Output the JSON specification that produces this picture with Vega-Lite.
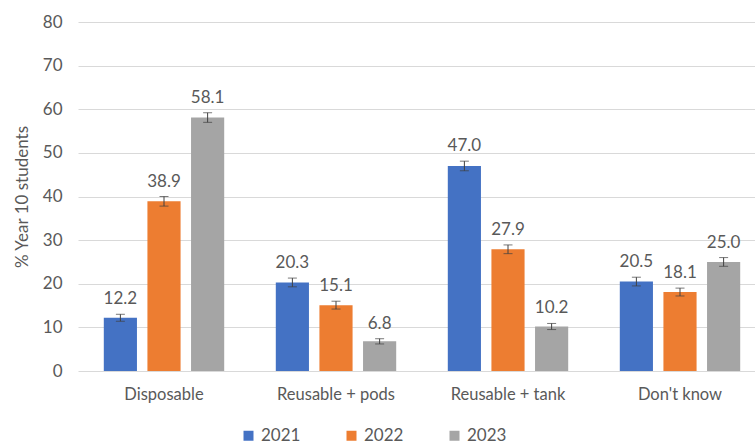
{
  "$schema": "https://vega.github.io/schema/vega-lite/v6.json",
  "width": 677,
  "height": 349,
  "autosize": {"type": "none"},
  "padding": {"left": 78, "top": 22, "right": 0, "bottom": 75},
  "background": "white",
  "config": {
    "font": "Lato",
    "view": {"stroke": null},
    "axis": {"labelColor": "#595959", "titleColor": "#595959", "labelFontSize": 17}
  },
  "data": {
    "values": [
      {"category": "Disposable", "year": "2021", "value": 12.2, "lo": 11.4, "hi": 13.0},
      {"category": "Disposable", "year": "2022", "value": 38.9, "lo": 37.8, "hi": 40.0},
      {"category": "Disposable", "year": "2023", "value": 58.1, "lo": 57.0, "hi": 59.2},
      {"category": "Reusable + pods", "year": "2021", "value": 20.3, "lo": 19.3, "hi": 21.3},
      {"category": "Reusable + pods", "year": "2022", "value": 15.1, "lo": 14.2, "hi": 16.0},
      {"category": "Reusable + pods", "year": "2023", "value": 6.8, "lo": 6.2, "hi": 7.4},
      {"category": "Reusable + tank", "year": "2021", "value": 47.0, "lo": 45.9, "hi": 48.1},
      {"category": "Reusable + tank", "year": "2022", "value": 27.9, "lo": 26.9, "hi": 28.9},
      {"category": "Reusable + tank", "year": "2023", "value": 10.2, "lo": 9.5, "hi": 10.9},
      {"category": "Don't know", "year": "2021", "value": 20.5, "lo": 19.5, "hi": 21.5},
      {"category": "Don't know", "year": "2022", "value": 18.1, "lo": 17.2, "hi": 19.0},
      {"category": "Don't know", "year": "2023", "value": 25.0, "lo": 24.0, "hi": 26.0}
    ]
  },
  "encoding": {
    "x": {
      "field": "category", "type": "nominal",
      "sort": ["Disposable", "Reusable + pods", "Reusable + tank", "Don't know"],
      "scale": {"range": [0, 688], "paddingInner": 0.3, "paddingOuter": 0.15},
      "axis": {"title": null, "labelAngle": 0, "ticks": false, "domain": false, "labelPadding": 15, "labelFontSize": 16.5}
    },
    "xOffset": {
      "field": "year", "type": "nominal",
      "scale": {"paddingInner": 0.24, "paddingOuter": 0}
    }
  },
  "layer": [
    {
      "mark": {"type": "bar"},
      "encoding": {
        "y": {
          "field": "value", "type": "quantitative",
          "scale": {"domain": [0, 80]},
          "axis": {
            "values": [0, 10, 20, 30, 40, 50, 60, 70, 80],
            "title": "% Year 10 students",
            "titleFontSize": 17, "titleFontWeight": "normal", "titlePadding": 11,
            "gridColor": "#d9d9d9", "domain": false, "ticks": false, "labelPadding": 16, "labelFontSize": 17
          }
        },
        "color": {
          "field": "year", "type": "nominal",
          "scale": {"domain": ["2021", "2022", "2023"], "range": ["#4472C4", "#ED7D31", "#A5A5A5"]},
          "legend": {
            "title": null, "orient": "none", "direction": "horizontal",
            "legendX": 162, "legendY": 405,
            "symbolType": "square", "symbolSize": 100, "symbolStrokeWidth": 0,
            "labelFontSize": 17, "labelColor": "#595959", "columnPadding": 42, "labelOffset": 4
          }
        }
      }
    },
    {
      "mark": {"type": "rule", "color": "#404040", "strokeWidth": 1},
      "encoding": {"y": {"field": "lo", "type": "quantitative"}, "y2": {"field": "hi"}}
    },
    {
      "mark": {"type": "tick", "color": "#404040", "thickness": 1, "size": 9, "orient": "horizontal"},
      "encoding": {"y": {"field": "lo", "type": "quantitative"}}
    },
    {
      "mark": {"type": "tick", "color": "#404040", "thickness": 1, "size": 9, "orient": "horizontal"},
      "encoding": {"y": {"field": "hi", "type": "quantitative"}}
    },
    {
      "mark": {"type": "text", "baseline": "bottom", "dy": -6, "fontSize": 17, "color": "#595959"},
      "encoding": {
        "y": {"field": "hi", "type": "quantitative"},
        "text": {"field": "value", "type": "quantitative", "format": ".1f"}
      }
    }
  ]
}
